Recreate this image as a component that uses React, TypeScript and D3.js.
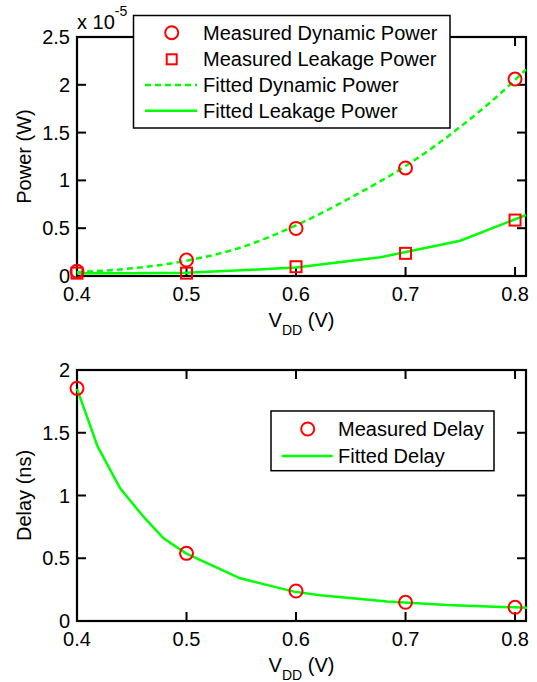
import React from "react";
import * as d3 from "d3";

const vddMeasured = [0.4, 0.5, 0.6, 0.7, 0.8];
const dynMeasured = [0.05, 0.167, 0.498, 1.13, 2.06];
const leakMeasured = [0.03, 0.03, 0.097, 0.237, 0.585];

const vddFitDyn = [0.4, 0.45, 0.5, 0.55, 0.6, 0.65, 0.7, 0.75, 0.8, 0.81];
const dynFit = [0.04, 0.08, 0.16, 0.3, 0.53, 0.82, 1.15, 1.56, 2.05, 2.16];

const vddFitLeak = [0.4, 0.45, 0.5, 0.55, 0.586, 0.6, 0.677, 0.75, 0.81];
const leakFit = [0.03, 0.03, 0.035, 0.06, 0.08, 0.09, 0.196, 0.369, 0.638];

const delayMeasured = [1.854, 0.539, 0.239, 0.149, 0.109];
const vddFitDelay = [0.4, 0.4189, 0.4394, 0.4607, 0.479, 0.4995, 0.549, 0.5675, 0.598, 0.622, 0.659, 0.683, 0.738, 0.781, 0.811];
const delayFit = [1.85, 1.389, 1.057, 0.831, 0.659, 0.539, 0.34, 0.3, 0.234, 0.205, 0.175, 0.155, 0.127, 0.114, 0.106];

const xTicks = [0.4, 0.5, 0.6, 0.7, 0.8];
const powerTicks = [0, 0.5, 1, 1.5, 2, 2.5];
const delayTicks = [0, 0.5, 1, 1.5, 2];

const FONT = "'Liberation Sans', Arial, Helvetica, sans-serif";
const GREEN = "#00ff00";
const RED = "#ff0000";

const L = 77;
const R = 526;

const x = d3.scaleLinear().domain([0.4, 0.81]).range([L, R]);

function Axes({ top, bottom, y, yTicks, ylabel }: any) {
  const tl = 9;
  return (
    <g>
      <rect x={L} y={top} width={R - L} height={bottom - top} fill="none" stroke="#000" strokeWidth={2.2} />
      {xTicks.map((t) => (
        <g key={"x" + t}>
          <line x1={x(t)} x2={x(t)} y1={bottom} y2={bottom - tl} stroke="#000" strokeWidth={2} />
          <line x1={x(t)} x2={x(t)} y1={top} y2={top + tl} stroke="#000" strokeWidth={2} />
          <text x={x(t)} y={bottom + 25} textAnchor="middle" fontSize={20} fontFamily={FONT}>
            {String(t)}
          </text>
        </g>
      ))}
      {yTicks.map((t: number) => (
        <g key={"y" + t}>
          <line x1={L} x2={L + tl} y1={y(t)} y2={y(t)} stroke="#000" strokeWidth={2} />
          <line x1={R} x2={R - tl} y1={y(t)} y2={y(t)} stroke="#000" strokeWidth={2} />
          <text x={70} y={y(t) + 7} textAnchor="end" fontSize={20} fontFamily={FONT}>
            {String(t)}
          </text>
        </g>
      ))}
      <text x={(L + R) / 2} y={bottom + 51} textAnchor="middle" fontSize={20} fontFamily={FONT}>
        V<tspan fontSize={14} dy={8}>DD</tspan>
        <tspan dy={-8}> (V)</tspan>
      </text>
      <text
        transform={`translate(31,${(top + bottom) / 2}) rotate(-90)`}
        textAnchor="middle"
        fontSize={20}
        fontFamily={FONT}
      >
        {ylabel}
      </text>
    </g>
  );
}

export default function App() {
  const yP = d3.scaleLinear().domain([0, 2.5]).range([276, 37]);
  const yD = d3.scaleLinear().domain([0, 2]).range([621, 370]);

  const line = (xs: number[], ys: number[], ys2: any, curve: any = d3.curveLinear) =>
    d3
      .line<number>()
      .x((_, i) => x(xs[i]))
      .y((v) => ys2(v))
      .curve(curve)(ys) as string;

  const r = 6.5;
  const sq = 11;

  return (
    <svg width={537} height={682} style={{ position: "absolute", left: 0, top: 0, background: "#fff" }}>
      <rect width={537} height={682} fill="#fff" />
      {/* Top plot */}
      <Axes top={37} bottom={276} y={yP} yTicks={powerTicks} ylabel="Power (W)" />
      <text x={77} y={29} fontSize={20} fontFamily={FONT}>
        x 10<tspan fontSize={14} dy={-13}>-5</tspan>
      </text>
      <path d={line(vddFitDyn, dynFit, yP, d3.curveMonotoneX)} fill="none" stroke={GREEN} strokeWidth={2.5} strokeDasharray="6,4" />
      <path d={line(vddFitLeak, leakFit, yP)} fill="none" stroke={GREEN} strokeWidth={2.5} />
      {vddMeasured.map((v, i) => (
        <circle key={"dc" + i} cx={x(v)} cy={yP(dynMeasured[i])} r={r} fill="none" stroke={RED} strokeWidth={2} />
      ))}
      {vddMeasured.map((v, i) => (
        <rect
          key={"ls" + i}
          x={x(v) - sq / 2}
          y={yP(leakMeasured[i]) - sq / 2}
          width={sq}
          height={sq}
          fill="none"
          stroke={RED}
          strokeWidth={2}
        />
      ))}
      {/* Top legend */}
      <g>
        <rect x={133.5} y={15.5} width={316.5} height={112.5} fill="#fff" stroke="#000" strokeWidth={1.5} />
        <circle cx={171.7} cy={32.7} r={r} fill="none" stroke={RED} strokeWidth={2} />
        <text x={203} y={39.7} fontSize={20} fontFamily={FONT}>Measured Dynamic Power</text>
        <rect x={171.7 - 5} y={59.3 - 5} width={10} height={10} fill="none" stroke={RED} strokeWidth={2} />
        <text x={203} y={66.3} fontSize={20} fontFamily={FONT}>Measured Leakage Power</text>
        <line x1={145} x2={197} y1={85} y2={85} stroke={GREEN} strokeWidth={2.5} strokeDasharray="6,4" />
        <text x={203} y={92} fontSize={20} fontFamily={FONT}>Fitted Dynamic Power</text>
        <line x1={145} x2={197} y1={110.7} y2={110.7} stroke={GREEN} strokeWidth={2.5} />
        <text x={203} y={117.7} fontSize={20} fontFamily={FONT}>Fitted Leakage Power</text>
      </g>

      {/* Bottom plot */}
      <Axes top={370} bottom={621} y={yD} yTicks={delayTicks} ylabel="Delay (ns)" />
      <path d={line(vddFitDelay, delayFit, yD)} fill="none" stroke={GREEN} strokeWidth={2.5} />
      {vddMeasured.map((v, i) => (
        <circle key={"dl" + i} cx={x(v)} cy={yD(delayMeasured[i])} r={r} fill="none" stroke={RED} strokeWidth={2} />
      ))}
      <g>
        <rect x={271} y={411} width={223} height={59.7} fill="#fff" stroke="#000" strokeWidth={1.5} />
        <circle cx={307.7} cy={429} r={r} fill="none" stroke={RED} strokeWidth={2} />
        <text x={338} y={436} fontSize={20} fontFamily={FONT}>Measured Delay</text>
        <line x1={281.7} x2={332.7} y1={456} y2={456} stroke={GREEN} strokeWidth={2.5} />
        <text x={338} y={463} fontSize={20} fontFamily={FONT}>Fitted Delay</text>
      </g>
    </svg>
  );
}
